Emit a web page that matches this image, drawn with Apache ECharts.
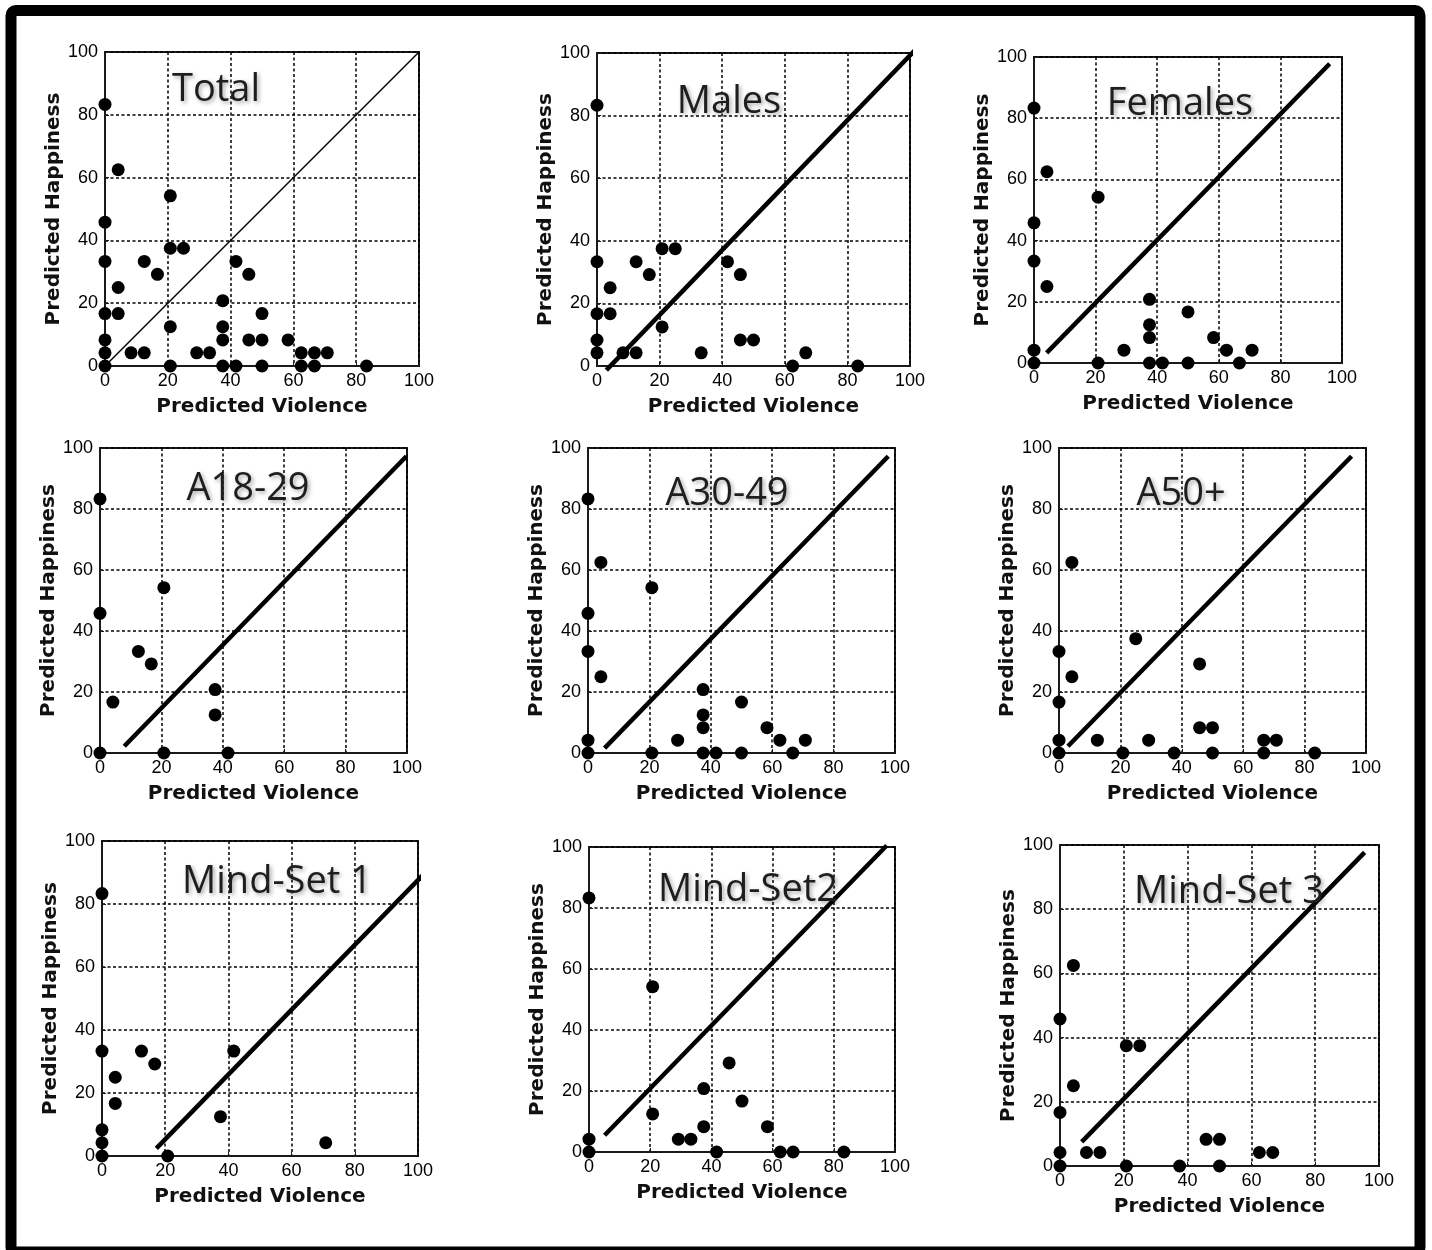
<!DOCTYPE html>
<html>
<head>
<meta charset="utf-8">
<script src="https://cdn.jsdelivr.net/npm/echarts@6/dist/echarts.min.js"></script>
<style>
html,body{margin:0;padding:0;background:#fff;}
#c{width:1432px;height:1250px;}
</style>
</head>
<body>
<div id="c"></div>
<script>
// ---- data ----
const panelTitles = ['Total', 'Males', 'Females', 'A18-29', 'A30-49', 'A50+', 'Mind-Set 1', 'Mind-Set2', 'Mind-Set 3'];
const xAxisTitle = 'Predicted Violence';
const yAxisTitle = 'Predicted Happiness';
const tickValues = [0, 20, 40, 60, 80, 100];

const totalPoints = [[0,83.3],[4.2,62.5],[20.8,54.2],[0,45.8],[20.8,37.5],[25,37.5],[0,33.3],[12.5,33.3],[16.7,29.2],[41.7,33.3],[45.8,29.2],[4.2,25],[37.5,20.8],[0,16.7],[4.2,16.7],[50,16.7],[20.8,12.5],[37.5,12.5],[0,8.3],[37.5,8.3],[45.8,8.3],[50,8.3],[58.3,8.3],[0,4.2],[8.3,4.2],[12.5,4.2],[29.2,4.2],[33.3,4.2],[62.5,4.2],[66.7,4.2],[70.8,4.2],[0,0],[20.8,0],[37.5,0],[41.7,0],[50,0],[62.5,0],[66.7,0],[83.3,0]];
const malesPoints = [[0,83.3],[0,33.3],[12.5,33.3],[16.7,29.2],[20.8,37.5],[25,37.5],[41.7,33.3],[45.8,29.2],[4.2,25],[0,16.7],[4.2,16.7],[20.8,12.5],[0,8.3],[45.8,8.3],[50,8.3],[0,4.2],[8.3,4.2],[12.5,4.2],[33.3,4.2],[66.7,4.2],[62.5,0],[83.3,0]];
const femalesPoints = [[0,83.3],[4.2,62.5],[20.8,54.2],[0,45.8],[0,33.3],[4.2,25],[37.5,20.8],[37.5,12.5],[37.5,8.3],[50,16.7],[58.3,8.3],[62.5,4.2],[70.8,4.2],[29.2,4.2],[0,4.2],[0,0],[20.8,0],[37.5,0],[41.7,0],[50,0],[66.7,0]];
const a1829Points = [[0,83.3],[0,45.8],[20.8,54.2],[12.5,33.3],[16.7,29.2],[4.2,16.7],[37.5,20.8],[37.5,12.5],[0,0],[20.8,0],[41.7,0]];
const a3049Points = [[0,83.3],[4.2,62.5],[20.8,54.2],[0,45.8],[0,33.3],[4.2,25],[37.5,20.8],[37.5,12.5],[37.5,8.3],[50,16.7],[58.3,8.3],[62.5,4.2],[70.8,4.2],[29.2,4.2],[0,4.2],[0,0],[20.8,0],[37.5,0],[41.7,0],[50,0],[66.7,0]];
const a50Points = [[4.2,62.5],[25,37.5],[0,33.3],[4.2,25],[0,16.7],[45.8,29.2],[45.8,8.3],[50,8.3],[0,4.2],[12.5,4.2],[29.2,4.2],[66.7,4.2],[70.8,4.2],[0,0],[20.8,0],[37.5,0],[50,0],[66.7,0],[83.3,0]];
const ms1Points = [[0,83.3],[0,33.3],[12.5,33.3],[16.7,29.2],[41.7,33.3],[4.2,25],[4.2,16.7],[37.5,12.5],[70.8,4.2],[0,8.3],[0,4.2],[0,0],[20.8,0]];
const ms2Points = [[0,83.3],[20.8,54.2],[45.8,29.2],[37.5,20.8],[50,16.7],[20.8,12.5],[37.5,8.3],[58.3,8.3],[29.2,4.2],[33.3,4.2],[0,4.2],[0,0],[41.7,0],[62.5,0],[66.7,0],[83.3,0]];
const ms3Points = [[4.2,62.5],[0,45.8],[20.8,37.5],[25,37.5],[4.2,25],[0,16.7],[0,4.2],[8.3,4.2],[12.5,4.2],[45.8,8.3],[50,8.3],[62.5,4.2],[66.7,4.2],[0,0],[20.8,0],[37.5,0],[50,0]];

const totalLine = [[0,0],[100,100]];
const malesLine = [[3,-1.3],[102.3,101.6]];
const femalesLine = [[4.1,3.3],[96,97.8]];
const a1829Line = [[7.9,2.2],[99.8,97.3]];
const a3049Line = [[5.4,1.6],[97.8,97.3]];
const a50Line = [[2.9,2.2],[95.3,97.3]];
const ms1Line = [[17.2,2.4],[106.6,94.4]];
const ms2Line = [[5.1,5.5],[97.3,100.5]];
const ms3Line = [[6.8,7.5],[95.5,97.7]];

const allPoints = [totalPoints, malesPoints, femalesPoints, a1829Points, a3049Points, a50Points, ms1Points, ms2Points, ms3Points];
const allLines = [totalLine, malesLine, femalesLine, a1829Line, a3049Line, a50Line, ms1Line, ms2Line, ms3Line];

// ---- layout (pixels) ----
const grids = [
  {left:105, top:52, width:314, height:314},
  {left:597, top:53, width:313, height:313},
  {left:1034, top:57, width:308, height:306},
  {left:100, top:448, width:307, height:305},
  {left:588, top:448, width:307, height:305},
  {left:1059, top:448, width:307, height:305},
  {left:102, top:841, width:316, height:315},
  {left:589, top:847, width:306, height:305},
  {left:1060, top:845, width:319, height:321}
];
const titlePos = [
  [211, 66], [724, 78], [1175, 80],
  [243, 465], [722, 470], [1176, 470],
  [272, 858], [743, 866], [1224, 868]
];
const lineWidths = [1.5, 4.5, 4.5, 4.5, 4.5, 4.5, 4.5, 4.5, 4.5];

const chart = echarts.init(document.getElementById('c'), null, {renderer: 'canvas'});

const gridOpts = [], xAxes = [], yAxes = [], series = [], titles = [];
const gridLine = {show: true, lineStyle: {color: '#000', width: 1.5, type: [3, 2.5]}};
const labelStyle = {fontFamily: 'Liberation Sans', fontSize: 18, color: '#000'};
const nameStyle = {fontFamily: 'DejaVu Sans', fontWeight: 'bold', fontSize: 20, color: '#111'};

for (let i = 0; i < 9; i++) {
  gridOpts.push(Object.assign({show: true, borderColor: '#1a1a1a', borderWidth: 2, backgroundColor: 'transparent', containLabel: false}, grids[i]));
  xAxes.push({
    type: 'value', gridIndex: i, min: tickValues[0], max: tickValues[tickValues.length - 1], interval: 20,
    name: xAxisTitle, nameLocation: 'middle', nameGap: 31, nameTextStyle: nameStyle,
    axisLine: {show: true, lineStyle: {color: '#1a1a1a', width: 2}},
    axisTick: {show: true, inside: true, length: 4, lineStyle: {color: '#1a1a1a'}},
    axisLabel: Object.assign({margin: 6, showMinLabel: true, showMaxLabel: true}, labelStyle),
    splitLine: gridLine
  });
  yAxes.push({
    type: 'value', gridIndex: i, min: tickValues[0], max: tickValues[tickValues.length - 1], interval: 20,
    name: yAxisTitle, nameLocation: 'middle', nameGap: 40, nameRotate: 90, nameTextStyle: nameStyle,
    axisLine: {show: true, lineStyle: {color: '#1a1a1a', width: 2}},
    axisTick: {show: true, inside: true, length: 4, lineStyle: {color: '#1a1a1a'}},
    axisLabel: Object.assign({margin: 7, showMinLabel: true, showMaxLabel: true}, labelStyle),
    splitLine: gridLine
  });
  series.push({
    type: 'line', xAxisIndex: i, yAxisIndex: i, data: allLines[i],
    showSymbol: false, symbol: 'none', clip: false, silent: true, z: 3,
    lineStyle: {color: '#000', width: lineWidths[i], cap: 'butt', opacity: 1}
  });
  series.push({
    type: 'scatter', xAxisIndex: i, yAxisIndex: i, data: allPoints[i],
    symbol: 'circle', symbolSize: 13, clip: false, z: 4,
    itemStyle: {color: '#000', opacity: 1}
  });
  titles.push({
    text: panelTitles[i], left: titlePos[i][0], top: titlePos[i][1], textAlign: 'center',
    textStyle: {fontFamily: 'Open Sans', fontWeight: 'normal', fontSize: 38, color: '#1e1e1e',
      textShadowColor: 'rgba(0,0,0,0.35)', textShadowBlur: 4, textShadowOffsetX: 2, textShadowOffsetY: 2}
  });
}

chart.setOption({
  animation: false,
  backgroundColor: '#fff',
  title: titles,
  grid: gridOpts,
  xAxis: xAxes,
  yAxis: yAxes,
  series: series,
  graphic: [{
    type: 'rect', silent: true, z: 100,
    shape: {x: 11, y: 10.5, width: 1409, height: 1241.5, r: 5},
    style: {fill: 'none', stroke: '#000', lineWidth: 11}
  }]
});
</script>
</body>
</html>
